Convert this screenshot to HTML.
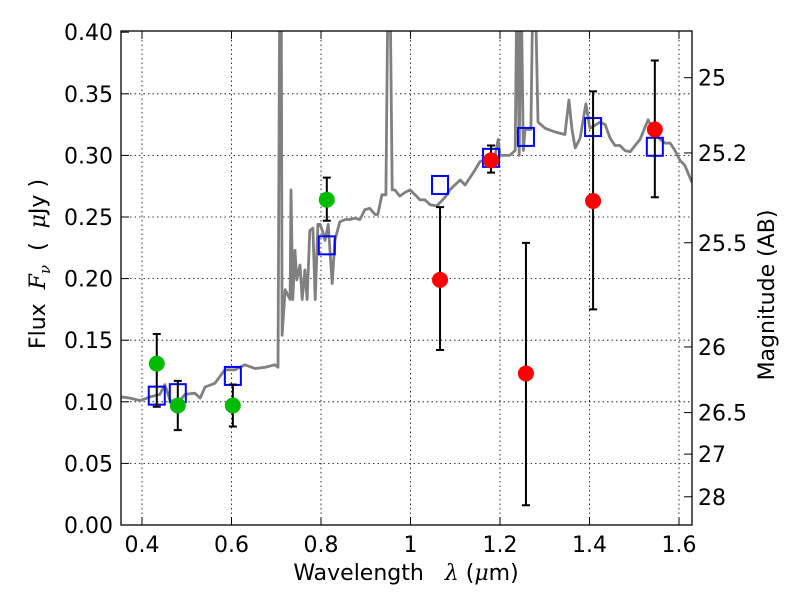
<!DOCTYPE html>
<html><head><meta charset="utf-8"><style>
body{margin:0;background:#fff;}
svg{display:block;font-family:"DejaVu Sans","Liberation Sans",sans-serif;}
text{white-space:pre;}
</style></head><body>
<svg id="chart" width="800" height="600" viewBox="0 0 800 600">
<defs><clipPath id="clip"><rect x="121" y="31" width="571" height="494"/></clipPath></defs>
<rect x="0" y="0" width="800" height="600" fill="#fff"/>
<g id="grid"></g>
<g id="spec" clip-path="url(#clip)"></g>
<g id="marks" clip-path="url(#clip)"></g>
<rect x="121" y="31" width="571" height="494" fill="none" stroke="#000" stroke-width="1.3"/>
<g id="axes"></g>
<text x="406" y="580" text-anchor="middle" font-size="22">Wavelength&#160;&#160;&#160;<tspan font-family="DejaVu Serif, serif" font-style="italic">λ</tspan> (<tspan font-family="DejaVu Serif, serif" font-style="italic">μ</tspan>m)</text>
<text transform="translate(45,264) rotate(-90)" text-anchor="middle" font-size="22">Flux&#160;&#160;<tspan font-family="DejaVu Serif, serif" font-style="italic">F</tspan><tspan font-family="DejaVu Serif, serif" font-style="italic" font-size="15" dy="5">ν</tspan><tspan dy="-5">&#160;&#160;(&#160;&#160;</tspan><tspan font-family="DejaVu Serif, serif" font-style="italic">μ</tspan>Jy )</text>
<text transform="translate(774,295) rotate(-90)" text-anchor="middle" font-size="22">Magnitude (AB)</text>
</svg>
<script>
const specLam=[0.353,0.373,0.396,0.418,0.440,0.451,0.463,0.480,0.496,0.518,0.530,0.541,0.563,0.585,0.608,0.630,0.653,0.675,0.697,0.704,0.708,0.711,0.713,0.720,0.731,0.733,0.737,0.742,0.746,0.753,0.758,0.764,0.769,0.775,0.782,0.787,0.793,0.798,0.804,0.809,0.816,0.825,0.831,0.842,0.854,0.865,0.876,0.887,0.898,0.909,0.921,0.927,0.936,0.945,0.950,0.954,0.959,0.965,0.976,0.988,0.999,1.010,1.021,1.032,1.044,1.059,1.077,1.088,1.099,1.111,1.122,1.133,1.144,1.155,1.166,1.178,1.189,1.196,1.200,1.222,1.234,1.238,1.243,1.247,1.252,1.256,1.269,1.274,1.278,1.285,1.301,1.323,1.345,1.354,1.361,1.368,1.379,1.392,1.401,1.424,1.435,1.446,1.457,1.468,1.479,1.491,1.502,1.513,1.531,1.540,1.558,1.569,1.580,1.591,1.602,1.613,1.629];
const specFlux=[0.104,0.103,0.101,0.104,0.106,0.114,0.101,0.099,0.106,0.107,0.103,0.112,0.115,0.126,0.126,0.130,0.127,0.128,0.130,0.128,0.45,0.45,0.154,0.191,0.183,0.272,0.183,0.223,0.199,0.211,0.183,0.207,0.183,0.239,0.241,0.183,0.244,0.244,0.238,0.231,0.244,0.196,0.231,0.246,0.248,0.248,0.249,0.248,0.256,0.257,0.252,0.252,0.268,0.268,0.45,0.45,0.272,0.272,0.267,0.270,0.272,0.268,0.264,0.264,0.260,0.259,0.266,0.272,0.276,0.280,0.276,0.282,0.288,0.295,0.296,0.299,0.300,0.313,0.300,0.300,0.304,0.45,0.300,0.45,0.304,0.321,0.321,0.45,0.45,0.327,0.322,0.319,0.317,0.345,0.321,0.306,0.314,0.342,0.322,0.327,0.325,0.314,0.308,0.308,0.304,0.303,0.308,0.313,0.329,0.322,0.313,0.310,0.310,0.304,0.296,0.292,0.278];
const ptLam=[0.433,0.480,0.603,0.813,1.066,1.180,1.258,1.408,1.546];
const ptFlux=[0.131,0.097,0.097,0.264,0.199,0.296,0.123,0.263,0.321];
const errHi=[0.155,0.117,0.114,0.282,0.258,0.308,0.229,0.352,0.377];
const errLo=[0.096,0.077,0.080,0.247,0.142,0.286,0.016,0.175,0.266];
const ptColor=['#00bb00','#00bb00','#00bb00','#00bb00','#ff0000','#ff0000','#ff0000','#ff0000','#ff0000'];
const modelFlux=[0.105,0.107,0.121,0.227,0.276,0.298,0.315,0.323,0.307];
const xTicks=[0.4,0.6,0.8,1.0,1.2,1.4,1.6];
const xTickLabels=['0.4','0.6','0.8','1','1.2','1.4','1.6'];
const yTicks=[0,0.05,0.1,0.15,0.2,0.25,0.3,0.35,0.4];
const yTickLabels=['0.00','0.05','0.10','0.15','0.20','0.25','0.30','0.35','0.40'];
const magTicks=[25,25.2,25.5,26,26.5,27,28];
const magTickLabels=['25','25.2','25.5','26','26.5','27','28'];

const NS='http://www.w3.org/2000/svg';
function X(l){return 142+(l-0.4)*447.5;}
function Y(f){return 525-f*1232;}
function el(tag,attrs,parent){const e=document.createElementNS(NS,tag);for(const k in attrs)e.setAttribute(k,attrs[k]);parent.appendChild(e);return e;}
const grid=document.getElementById('grid'),spec=document.getElementById('spec'),marks=document.getElementById('marks'),axes=document.getElementById('axes');

xTicks.forEach((t,i)=>{
 const x=X(t);
 let g=el('line',{x1:x,x2:x,y1:31,y2:525,stroke:'#000','stroke-width':0.8,'stroke-dasharray':'1.5,3'},grid);
 
 
 let a=el('line',{x1:x,x2:x,y1:525,y2:517,stroke:'#000','stroke-width':1},axes);
 
 
 let b=el('line',{x1:x,x2:x,y1:31,y2:39,stroke:'#000','stroke-width':1},axes);
 
 
 let tx=el('text',{x:x,y:552,'text-anchor':'middle','font-size':22},axes);
 tx.textContent=xTickLabels[i];
 
 
});
yTicks.forEach((t,i)=>{
 const y=Y(t);
 if(t>0&&t<0.4){
 let g=el('line',{x1:121,x2:692,y1:y,y2:y,stroke:'#000','stroke-width':0.8,'stroke-dasharray':'1.5,3'},grid);
 
 }
 let a=el('line',{x1:121,x2:129,y1:y,y2:y,stroke:'#000','stroke-width':1},axes);
 
 
 let tx=el('text',{x:113,y:y+8,'text-anchor':'end','font-size':22},axes);
 tx.textContent=yTickLabels[i];
 
 
});
magTicks.forEach((m,i)=>{
 const y=Y(Math.pow(10,(23.9-m)/2.5));
 let a=el('line',{x1:684,x2:692,y1:y,y2:y,stroke:'#000','stroke-width':1},axes);
 
 
 let tx=el('text',{x:698,y:y+8,'font-size':22},axes);
 tx.textContent=magTickLabels[i];
 
 
});

let d=specLam.map((l,i)=>(i?'L':'M')+X(l).toFixed(1)+','+Y(specFlux[i]).toFixed(1)).join(' ');
let p=el('path',{d:d,fill:'none',stroke:'#808080','stroke-width':2.8,'stroke-linejoin':'round'},spec);



ptLam.forEach((l,i)=>{
 const x=X(l);
 let sq=el('rect',{x:x-8,y:Y(modelFlux[i])-9,width:16,height:18,fill:'none',stroke:'#0000ff','stroke-width':2},marks);
 
 
});
ptLam.forEach((l,i)=>{
 const x=X(l);
 let e=el('path',{d:`M${x},${Y(errHi[i])}L${x},${Y(errLo[i])}M${x-4},${Y(errHi[i])}L${x+4},${Y(errHi[i])}M${x-4},${Y(errLo[i])}L${x+4},${Y(errLo[i])}`,stroke:'#000','stroke-width':2,fill:'none'},marks);
 
 
 let c=el('circle',{cx:x,cy:Y(ptFlux[i]),r:8,fill:ptColor[i]},marks);
 
 
});
</script>
</body></html>
